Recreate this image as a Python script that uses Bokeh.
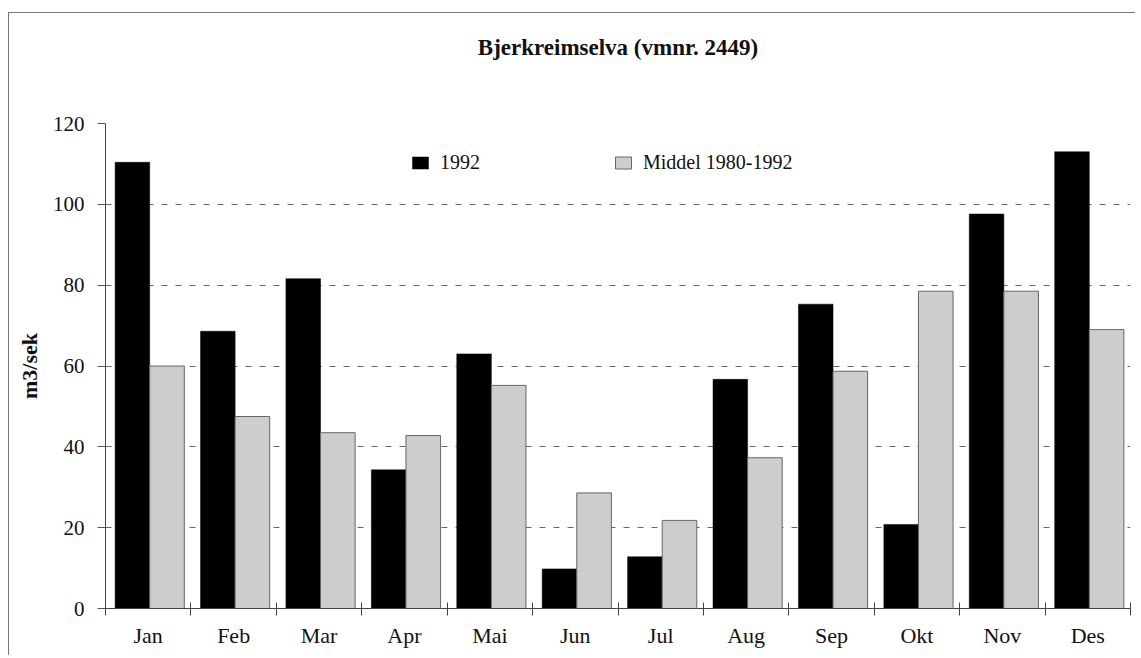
import numpy as np
from bokeh.plotting import figure
from bokeh.models import (Range1d, FixedTicker, Legend, LegendItem, ColumnDataSource, LinearAxis, Title)
from bokeh.embed import file_html
from bokeh.resources import INLINE

months = ["Jan", "Feb", "Mar", "Apr", "Mai", "Jun", "Jul", "Aug", "Sep", "Okt", "Nov", "Des"]
flow_1992 = [110.4, 68.6, 81.6, 34.3, 63.0, 9.8, 12.8, 56.7, 75.3, 20.8, 97.6, 113.0]
flow_mean = [60.0, 47.5, 43.5, 42.8, 55.2, 28.6, 21.8, 37.3, 58.7, 78.5, 78.5, 69.0]
y_ticks = [0, 20, 40, 60, 80, 100, 120]

idx = np.arange(len(months))
src = ColumnDataSource(dict(x1=idx + 0.315, x2=idx + 0.72, a=flow_1992, b=flow_mean))

FONT = "Liberation Serif"

p = figure(width=1127, height=643, output_backend="svg", toolbar_location=None,
           x_range=Range1d(0, 12), y_range=Range1d(0, 120),
           min_border_left=96, min_border_right=6, min_border_top=110, min_border_bottom=48,
           styles={"border-top": "1px solid #777", "border-left": "1px solid #777",
                   "margin-left": "8px", "margin-top": "12px"})

p.outline_line_color = None
p.background_fill_color = "white"
p.border_fill_color = "white"

# invisible spacer axis directly above the frame, pushing the title upward
spacer = LinearAxis(ticker=FixedTicker(ticks=[0], minor_ticks=[]), major_tick_out=59, major_tick_in=0,
                    axis_line_color=None, major_tick_line_color="white", major_tick_line_alpha=0.01,
                    minor_tick_line_color=None, major_label_overrides={0: ""},
                    major_label_text_font_size="1px", major_label_standoff=0)
p.add_layout(spacer, "above")

title = Title(text="Bjerkreimselva (vmnr. 2449)", align="center", standoff=10,
              text_font=FONT, text_font_size="23px", text_font_style="bold",
              text_color="#111111")
p.add_layout(title, "above")

r1 = p.vbar(x="x1", top="a", width=0.405, source=src, fill_color="#000000", line_color="#000000", line_width=0.5)
r2 = p.vbar(x="x2", top="b", width=0.405, source=src, fill_color="#cdcdcd", line_color="#666666", line_width=1)

# x axis
xa = p.below[0]
xa.ticker = FixedTicker(ticks=list(idx + 0.5), minor_ticks=list(range(13)))
xa.major_label_overrides = {float(i + 0.5): m for i, m in enumerate(months)}
xa.major_tick_in = 0
xa.major_tick_out = 0
xa.minor_tick_in = 6
xa.minor_tick_out = 7
xa.minor_tick_line_color = "#444444"
xa.axis_line_color = "#444444"
xa.major_label_text_font = FONT
xa.major_label_text_font_size = "22px"
xa.major_label_text_color = "#111111"
xa.major_label_standoff = 7

# y axis
ya = p.left[0]
ya.ticker = FixedTicker(ticks=y_ticks, minor_ticks=[])
ya.major_tick_in = 0
ya.major_tick_out = 8
ya.major_tick_line_color = "#555555"
ya.minor_tick_line_color = None
ya.axis_line_color = "#444444"
ya.major_label_text_font = FONT
ya.major_label_text_font_size = "21px"
ya.major_label_text_color = "#111111"
ya.major_label_standoff = 13
ya.axis_label = "m3/sek"
ya.axis_label_text_font = FONT
ya.axis_label_text_font_size = "22px"
ya.axis_label_text_font_style = "bold"
ya.axis_label_text_color = "#111111"
ya.axis_label_standoff = 8

p.xgrid.grid_line_color = None
p.ygrid.grid_line_color = "#666666"
p.ygrid.grid_line_dash = "6 8"
p.ygrid.grid_line_width = 1

legend = Legend(items=[LegendItem(label="1992", renderers=[r1]),
                       LegendItem(label="Middel 1980-1992", renderers=[r2])],
                orientation="horizontal", location=(305, 434),
                padding=0, margin=0, spacing=133,
                glyph_width=20, glyph_height=15, label_height=20, label_standoff=10,
                border_line_color=None, background_fill_alpha=0,
                label_text_font=FONT, label_text_font_size="20px", label_text_color="#111111")
p.add_layout(legend, "center")

open("out.html", "w").write(file_html(p, INLINE))
